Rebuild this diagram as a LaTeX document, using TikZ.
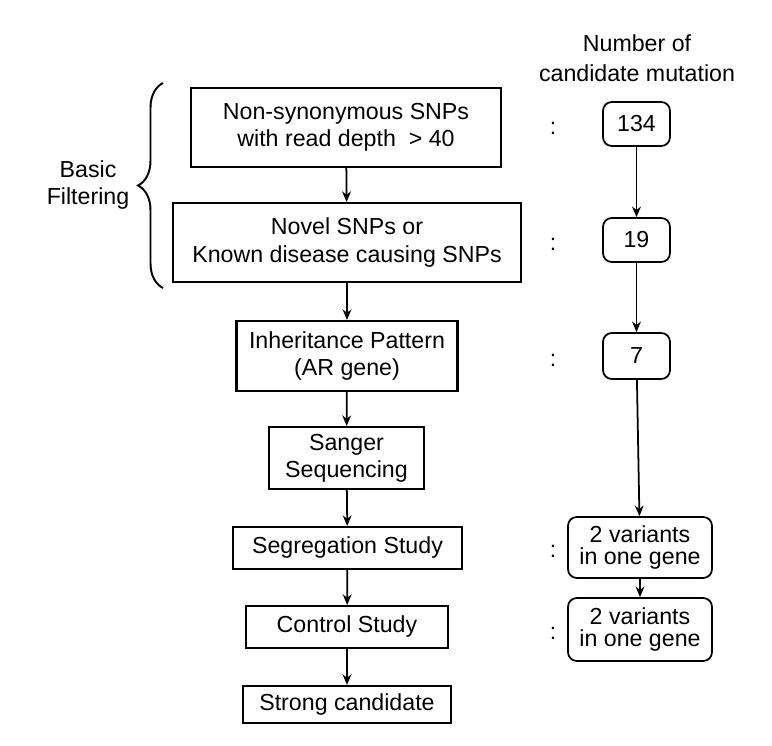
\documentclass[tikz,border=0pt]{standalone}
\usepackage{fontspec}
\setmainfont{Liberation Sans}
\usetikzlibrary{arrows.meta,decorations.pathreplacing}

\begin{document}
\begin{tikzpicture}[x=0.02cm,y=-0.02cm,
  stage/.style={draw=black,line width=1.2pt,inner sep=0pt,align=center,
    font=\fontsize{13.2}{15.5}\selectfont},
  count/.style={draw=black,line width=1pt,rounded corners=5pt,inner sep=0pt,
    align=center,font=\fontsize{13.2}{12}\selectfont},
  colon/.style={font=\fontsize{13.2}{15}\selectfont},
  arr/.style={-{Stealth[length=6pt,width=5pt]},line width=1pt}]
\useasboundingbox (0,0) rectangle (772,746);
% left column
\node[stage,minimum width=6.2cm,minimum height=1.58cm] (snp) at (346,127.5) {Non-synonymous SNPs\\with read depth \ > 40};
\node[stage,minimum width=6.96cm,minimum height=1.58cm] (novel) at (347,242.5) {Novel SNPs or\\Known disease causing SNPs};
\node[stage,minimum width=4.42cm,minimum height=1.4cm] (inher) at (347,356) {Inheritance Pattern\\(AR gene)};
\node[stage,minimum width=3.1cm,minimum height=1.24cm] (sanger) at (346.5,458) {Sanger\\Sequencing};
\node[stage,minimum width=4.58cm,minimum height=0.84cm] (segr) at (347.5,548) {Segregation Study};
\node[stage,minimum width=4.04cm,minimum height=0.84cm] (ctrl) at (347,627) {Control Study};
\node[stage,minimum width=4.16cm,minimum height=0.74cm] (strong) at (347,704.5) {Strong candidate};
\draw[arr] (snp) -- (novel);
\draw[arr] (novel) -- (inher);
\draw[arr] (inher) -- (sanger);
\draw[arr] (sanger) -- (segr);
\draw[arr] (segr) -- (ctrl);
\draw[arr] (ctrl) -- (strong);
% brace
\coordinate (bbot) at (163,288);
\coordinate (btop) at (163,83);
\draw[line width=1.1pt,decorate,decoration={brace,amplitude=0.5cm}] (bbot) -- (btop);
\node[stage,draw=none] (basic) at (88,185) {Basic\\Filtering};
% right column
\node[stage,draw=none,font=\fontsize{13.2}{17}\selectfont] (title) at (637,58) {Number of\\candidate mutation};
\node[count,minimum width=1.34cm,minimum height=0.88cm] (c134) at (636.5,124) {134};
\node[count,minimum width=1.34cm,minimum height=0.88cm] (c19) at (636.5,240) {19};
\node[count,minimum width=1.34cm,minimum height=0.92cm] (c7) at (636.5,356) {7};
\node[count,minimum width=2.88cm,minimum height=1.22cm] (cseg) at (640,547.5) {2 variants\\in one gene};
\node[count,minimum width=2.88cm,minimum height=1.26cm] (cctrl) at (640,629.5) {2 variants\\in one gene};
\draw[arr] (c134) -- (c19);
\draw[arr] (c19) -- (c7);
\draw[arr] (c7) -- (cseg);
\draw[arr] (cseg) -- (cctrl);
% colons
\foreach \n/\y in {k1/128,k2/244,k3/360,k4/551,k5/633}
  \node[colon] (\n) at (553,\y) {:};
\end{tikzpicture}
\end{document}
